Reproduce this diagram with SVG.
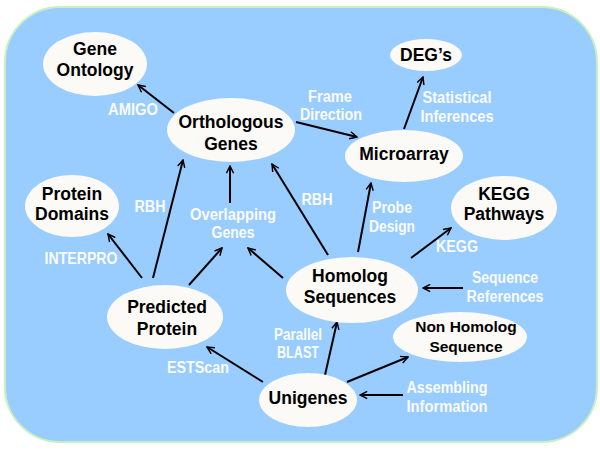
<svg xmlns="http://www.w3.org/2000/svg" width="600" height="450" viewBox="0 0 600 450">
<defs>
<marker id="ah" viewBox="0 0 10 10" refX="9" refY="5" markerWidth="9" markerHeight="9" markerUnits="userSpaceOnUse" orient="auto">
<path d="M1,1 L9,5 L1,9" fill="none" stroke="#000" stroke-width="1.6"/>
</marker>
<style>
.bg{fill:#99CCFF;stroke:#C8F0C0;stroke-width:2}
.node{fill:#FCFAF6;stroke:none}
.nt{font-family:"Liberation Sans",Arial,sans-serif;font-weight:bold;font-size:17.5px;fill:#000;text-anchor:middle}
.lb{font-family:"Liberation Sans",Arial,sans-serif;font-weight:bold;font-size:16px;fill:#FAFCFF;text-anchor:middle}
.ed{stroke:#000;stroke-width:2;fill:none;marker-end:url(#ah)}
</style>
</defs>
<rect class="bg" x="5" y="7" width="592" height="435" rx="55" ry="55"/>
<g id="connectors">
<line class="ed" x1="174" y1="113" x2="138" y2="85"/>
<line class="ed" x1="296" y1="122" x2="357" y2="137"/>
<line class="ed" x1="404" y1="129" x2="423" y2="77"/>
<line class="ed" x1="153" y1="278" x2="183" y2="160"/>
<line class="ed" x1="230" y1="203" x2="230" y2="166"/>
<line class="ed" x1="328" y1="255" x2="272" y2="164"/>
<line class="ed" x1="358" y1="252" x2="371" y2="183"/>
<line class="ed" x1="411" y1="258" x2="451" y2="228"/>
<line class="ed" x1="463" y1="288" x2="423" y2="288"/>
<line class="ed" x1="142" y1="278" x2="108" y2="234"/>
<line class="ed" x1="189" y1="285" x2="222" y2="248"/>
<line class="ed" x1="283" y1="278" x2="248" y2="248"/>
<line class="ed" x1="263" y1="382" x2="207" y2="347"/>
<line class="ed" x1="325" y1="375" x2="337" y2="322"/>
<line class="ed" x1="347" y1="382" x2="408" y2="357"/>
<line class="ed" x1="403" y1="395" x2="360" y2="395"/>
</g>
<g id="labels">
<text class="lb" x="133" y="115" textLength="50" lengthAdjust="spacingAndGlyphs">AMIGO</text>
<text class="lb" x="330" y="102" textLength="44" lengthAdjust="spacingAndGlyphs">Frame</text>
<text class="lb" x="331" y="120" textLength="62" lengthAdjust="spacingAndGlyphs">Direction</text>
<text class="lb" x="457" y="103" textLength="69" lengthAdjust="spacingAndGlyphs">Statistical</text>
<text class="lb" x="457" y="122" textLength="73" lengthAdjust="spacingAndGlyphs">Inferences</text>
<text class="lb" x="150" y="212" textLength="31" lengthAdjust="spacingAndGlyphs">RBH</text>
<text class="lb" x="317" y="205" textLength="31" lengthAdjust="spacingAndGlyphs">RBH</text>
<text class="lb" x="233" y="220" textLength="86" lengthAdjust="spacingAndGlyphs">Overlapping</text>
<text class="lb" x="233" y="238" textLength="43" lengthAdjust="spacingAndGlyphs">Genes</text>
<text class="lb" x="392" y="213" textLength="40" lengthAdjust="spacingAndGlyphs">Probe</text>
<text class="lb" x="392" y="232" textLength="46" lengthAdjust="spacingAndGlyphs">Design</text>
<text class="lb" x="81" y="264" textLength="73" lengthAdjust="spacingAndGlyphs">INTERPRO</text>
<text class="lb" x="457" y="252" textLength="42" lengthAdjust="spacingAndGlyphs">KEGG</text>
<text class="lb" x="505" y="283" textLength="66" lengthAdjust="spacingAndGlyphs">Sequence</text>
<text class="lb" x="505" y="302" textLength="77" lengthAdjust="spacingAndGlyphs">References</text>
<text class="lb" x="298" y="340" textLength="48" lengthAdjust="spacingAndGlyphs">Parallel</text>
<text class="lb" x="298" y="358" textLength="42" lengthAdjust="spacingAndGlyphs">BLAST</text>
<text class="lb" x="198" y="373" textLength="62" lengthAdjust="spacingAndGlyphs">ESTScan</text>
<text class="lb" x="447" y="393" textLength="81" lengthAdjust="spacingAndGlyphs">Assembling</text>
<text class="lb" x="447" y="412" textLength="81" lengthAdjust="spacingAndGlyphs">Information</text>
</g>
<g id="gene-ontology"><ellipse class="node" cx="95" cy="64" rx="52" ry="32"/><text class="nt" x="95" y="55">Gene</text><text class="nt" x="95" y="76">Ontology</text></g>
<g id="orthologous-genes"><ellipse class="node" cx="231" cy="130" rx="64" ry="32"/><text class="nt" x="231" y="128">Orthologous</text><text class="nt" x="231" y="150">Genes</text></g>
<g id="degs"><ellipse class="node" cx="426" cy="55" rx="36" ry="16"/><text class="nt" x="426" y="61">DEG’s</text></g>
<g id="microarray"><ellipse class="node" cx="404" cy="156" rx="59" ry="26"/><text class="nt" x="404" y="160">Microarray</text></g>
<g id="kegg-pathways"><ellipse class="node" cx="504" cy="208" rx="53" ry="32"/><text class="nt" x="504" y="200">KEGG</text><text class="nt" x="504" y="220">Pathways</text></g>
<g id="protein-domains"><ellipse class="node" cx="72" cy="206" rx="47" ry="31"/><text class="nt" x="72" y="200">Protein</text><text class="nt" x="72" y="220">Domains</text></g>
<g id="predicted-protein"><ellipse class="node" cx="165" cy="317" rx="58" ry="32"/><text class="nt" x="167" y="313">Predicted</text><text class="nt" x="167" y="335">Protein</text></g>
<g id="homolog-sequences"><ellipse class="node" cx="352" cy="290" rx="66" ry="33"/><text class="nt" x="350" y="282">Homolog</text><text class="nt" x="350" y="303">Sequences</text></g>
<g id="non-homolog-sequence"><ellipse class="node" cx="460" cy="337" rx="67" ry="25"/><text class="nt" x="466" y="332" style="font-size:15.5px">Non Homolog</text><text class="nt" x="466" y="352" style="font-size:15.5px">Sequence</text></g>
<g id="unigenes"><ellipse class="node" cx="308" cy="400" rx="49" ry="27"/><text class="nt" x="308" y="404">Unigenes</text></g>
</svg>
